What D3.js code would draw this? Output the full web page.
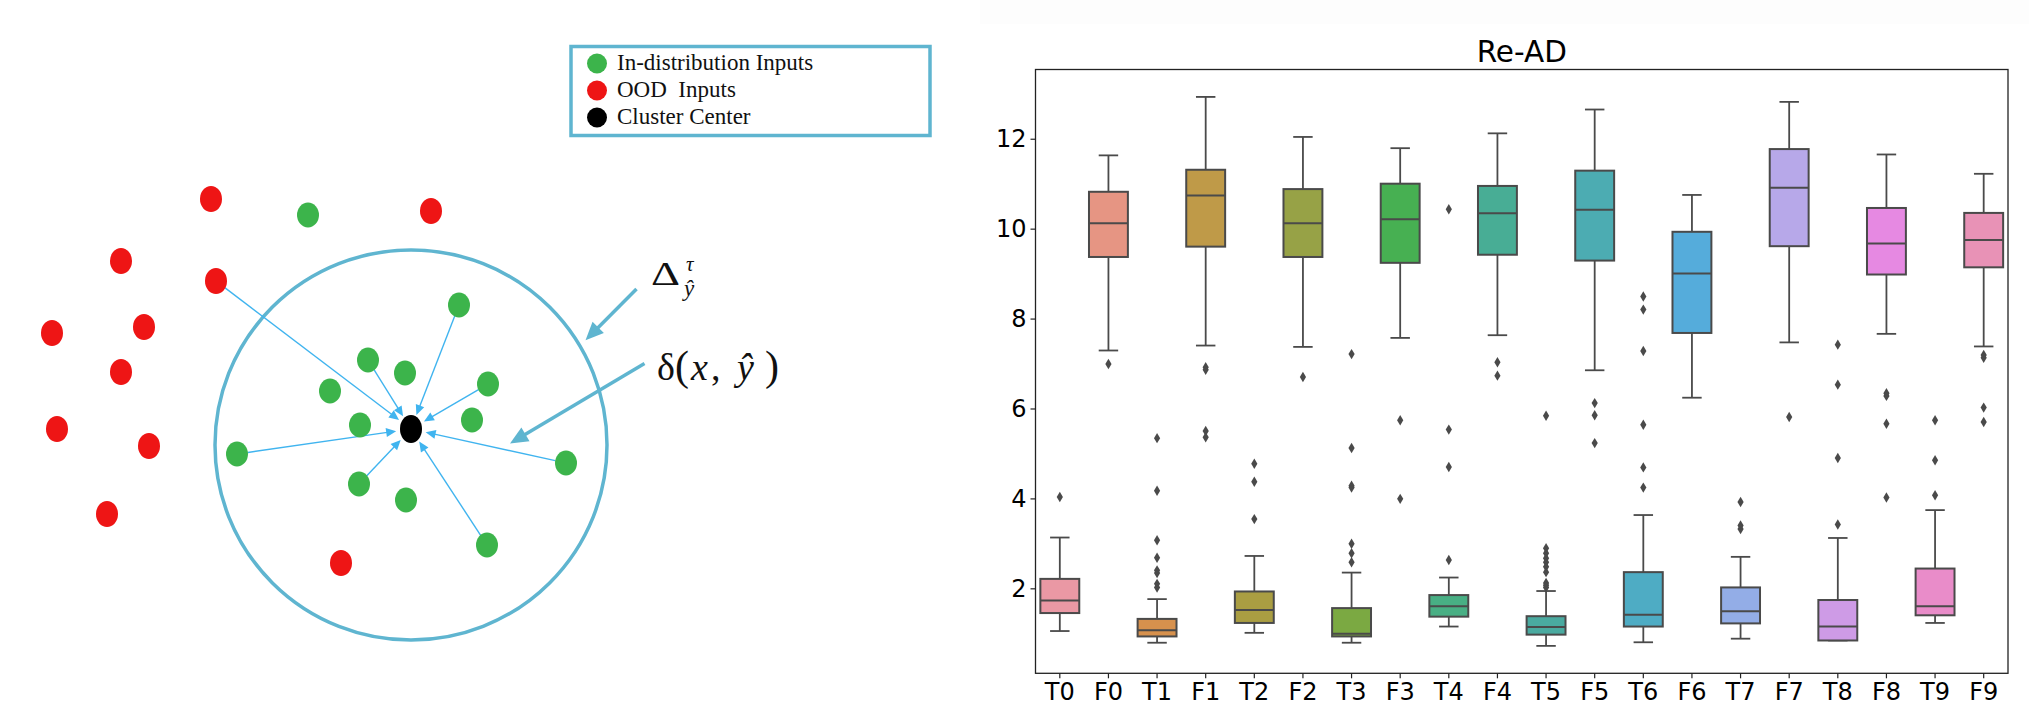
<!DOCTYPE html>
<html>
<head>
<meta charset="utf-8">
<script src="https://cdn.jsdelivr.net/npm/d3@7"></script>
<style>
body { margin: 0; background: #fff; }
svg { display: block; }
</style>
</head>
<body>
<svg id="fig" width="2029" height="723"></svg>
<script>
// ---------- left panel: points relative to the cluster centre (y up)
const oodPoints = [[-200,230],[20,218],[-290,168],[-195,148],[-359,96],[-267,102],[-290,57],[-354,0],[-262,-17],[-304,-85],[-70,-134]];
const inPoints = [[-103,214],[48,124],[-43,69],[-6,56],[-81,38],[77,45],[-51,4],[61,9],[-174,-25],[155,-34],[-52,-55],[-5,-71],[76,-116]];
const clusterCenter = [0, 0];
const boundaryCenter = [0, -16];
const boundaryRadius = [196, 195];
const arrowsFromOod = [3];
const arrowsFromIn = [1, 2, 5, 8, 9, 10, 12];
// annotation arrows: [from, to]
const deltaArrow = [[225.5, 140], [174.5, 88.8]];
const distArrow = [[233.5, 65.5], [99, -14.5]];
const legendItems = ["In-distribution Inputs", "OOD  Inputs", "Cluster Center"];

// ---------- right panel: box stats
const categories = ["T0","F0","T1","F1","T2","F2","T3","F3","T4","F4","T5","F5","T6","F6","T7","F7","T8","F8","T9","F9"];
const whiskerLow  = [1.05,7.29,0.79,7.40,1.01,7.37,0.79,7.57,1.15,7.63,0.72,6.85,0.80,6.24,0.88,7.47,0.84,7.66,1.23,7.38];
const q1          = [1.45,9.37,0.93,9.60,1.23,9.37,0.93,9.24,1.37,9.42,0.97,9.29,1.15,7.68,1.22,9.61,0.84,8.98,1.40,9.14];
const median      = [1.73,10.12,1.07,10.74,1.52,10.12,0.99,10.21,1.60,10.34,1.14,10.42,1.41,9.00,1.49,10.91,1.15,9.67,1.60,9.75];
const q3          = [2.21,10.82,1.32,11.31,1.93,10.88,1.56,11.00,1.85,10.95,1.38,11.29,2.36,9.93,2.02,11.77,1.74,10.46,2.44,10.35];
const whiskerHigh = [3.13,11.63,1.76,12.93,2.72,12.04,2.35,11.79,2.24,12.12,1.94,12.65,3.63,10.75,2.70,12.82,3.12,11.65,3.74,11.22];
const outliers = [
  [4.03],
  [6.99],
  [5.34,4.17,3.07,2.68,2.40,2.34,2.10,2.02],
  [6.92,6.86,5.50,5.36],
  [4.77,4.37,3.54],
  [6.70],
  [7.21,5.12,4.28,4.24,2.99,2.78,2.58],
  [5.74,3.99],
  [10.43,5.53,4.70,2.63],
  [7.03,6.73],
  [5.84,2.89,2.78,2.67,2.58,2.48,2.36,2.12,2.07,2.02],
  [6.12,5.85,5.23],
  [8.49,8.20,7.28,5.64,4.69,4.24],
  [],
  [3.92,3.40,3.32],
  [5.81],
  [7.42,6.53,4.90,3.42],
  [6.34,6.28,5.66,4.02],
  [5.74,4.85,4.07],
  [7.19,7.13,6.02,5.70]
];
const yTicks = [2, 4, 6, 8, 10, 12];
const palette = ["#ea98a4","#e69583","#d7914d","#bf9a48","#aa9e42","#97a246","#7ba942","#47b052","#48af84","#48ad95","#4aaaa0","#4cacb2","#4eacc4","#55acdb","#93ade7","#b7a8e9","#ce9be6","#e689e2","#e98cc9","#e892b6"];

let svg = d3.select("#fig");
svg.append("rect").attr("width", 2029).attr("height", 723).attr("fill", "#fff");
svg.append("rect").attr("x", 980).attr("y", 0).attr("width", 1049).attr("height", 24).attr("fill", "#fdfdfd");

//? ================= left diagram
const xD = d3.scaleLinear().domain([-400, 400]).range([11, 811]);
const yD = d3.scaleLinear().domain([-400, 400]).range([829, 29]);
const ringColor = "#5fb5d0";
const arrowColor = "#40b4ef";

svg.append("ellipse")
  .attr("cx", xD(boundaryCenter[0])).attr("cy", yD(boundaryCenter[1]))
  .attr("rx", xD(boundaryRadius[0]) - xD(0)).attr("ry", yD(0) - yD(boundaryRadius[1]))
  .attr("fill", "none").attr("stroke", ringColor).attr("stroke-width", 3.5);

function arrow(g, p0, p1, o) {
  let dx = p1[0] - p0[0], dy = p1[1] - p0[1];
  let len = Math.hypot(dx, dy);
  let ux = dx / len, uy = dy / len;
  let s = [p0[0] + ux * o.startOff, p0[1] + uy * o.startOff];
  let tip = [p1[0] - ux * o.endOff, p1[1] - uy * o.endOff];
  let base = [tip[0] - ux * o.head, tip[1] - uy * o.head];
  g.append("line")
    .attr("x1", s[0]).attr("y1", s[1]).attr("x2", base[0] + ux).attr("y2", base[1] + uy)
    .attr("stroke", o.color).attr("stroke-width", o.width);
  g.append("path")
    .attr("d", `M${tip[0]},${tip[1]}L${base[0] - uy * o.half},${base[1] + ux * o.half}L${base[0] + uy * o.half},${base[1] - ux * o.half}Z`)
    .attr("fill", o.color);
}

let arrowsG = svg.append("g");
let cpx = [xD(clusterCenter[0]), yD(clusterCenter[1])];
let thin = { startOff: 11, endOff: 15, head: 10, half: 4.5, color: arrowColor, width: 1.4 };
arrowsFromOod.forEach(i => arrow(arrowsG, [xD(oodPoints[i][0]), yD(oodPoints[i][1])], cpx, thin));
arrowsFromIn.forEach(i => arrow(arrowsG, [xD(inPoints[i][0]), yD(inPoints[i][1])], cpx, thin));

svg.append("g").selectAll("ellipse").data(oodPoints).enter().append("ellipse")
  .attr("cx", d => xD(d[0])).attr("cy", d => yD(d[1]))
  .attr("rx", 11).attr("ry", 13).attr("fill", "#ee1515");
svg.append("g").selectAll("ellipse").data(inPoints).enter().append("ellipse")
  .attr("cx", d => xD(d[0])).attr("cy", d => yD(d[1]))
  .attr("rx", 11).attr("ry", 12.5).attr("fill", "#3cb44b");
svg.append("ellipse").attr("cx", cpx[0]).attr("cy", cpx[1]).attr("rx", 11).attr("ry", 14).attr("fill", "#000");

let thick = { startOff: 0, endOff: 0, head: 18, half: 8, color: ringColor, width: 3.5 };
arrow(svg, deltaArrow[0].map((v, k) => k ? yD(v) : xD(v)), deltaArrow[1].map((v, k) => k ? yD(v) : xD(v)), thick);
arrow(svg, distArrow[0].map((v, k) => k ? yD(v) : xD(v)), distArrow[1].map((v, k) => k ? yD(v) : xD(v)), thick);

// math labels
let mathG = svg.append("g").attr("font-family", "Liberation Serif").attr("fill", "#111");
mathG.append("text").attr("x", xD(240)).attr("y", yD(144)).attr("font-size", 34)
  .attr("textLength", 29).attr("lengthAdjust", "spacingAndGlyphs").text("Δ");
mathG.append("text").attr("x", xD(275)).attr("y", yD(158)).attr("font-size", 21).attr("font-style", "italic").text("τ");
mathG.append("text").attr("x", xD(273)).attr("y", yD(133)).attr("font-size", 23).attr("font-style", "italic").text("ŷ");
let base2 = yD(49);
[["δ", 246, 38, "normal"], ["(", 264, 42, "normal"], ["x", 280, 38, "italic"], [",", 300, 38, "normal"],
 ["ŷ", 326, 38, "italic"], [")", 354, 42, "normal"]].forEach(t => {
  mathG.append("text").attr("x", xD(t[1])).attr("y", base2).attr("font-size", t[2])
    .attr("font-style", t[3]).text(t[0]);
});

// legend
let leg = svg.append("g");
leg.append("rect").attr("x", 571).attr("y", 46.5).attr("width", 359).attr("height", 89)
  .attr("fill", "#fff").attr("stroke", ringColor).attr("stroke-width", 3.5);
const legColors = ["#3cb44b", "#ee1515", "#000"];
legendItems.forEach((t, i) => {
  let cy = 63.5 + i * 27;
  leg.append("circle").attr("cx", 597).attr("cy", cy).attr("r", 10).attr("fill", legColors[i]);
  leg.append("text").attr("x", 617).attr("y", cy + 6.5).attr("font-family", "Liberation Serif")
    .attr("font-size", 23).attr("fill", "#111").style("white-space", "pre").text(t);
});

//? ================= right boxplot
const plot = { left: 1035.5, right: 2008, top: 69.5, bottom: 673.3 };
const x = d3.scaleBand().domain(categories).range([plot.left, plot.right]);
const y = d3.scaleLinear().domain([0.11, 13.54]).range([plot.bottom, plot.top]);
const bw = x.bandwidth() * 0.8;
const lineCol = "#4a4a4a";

let stats = categories.map((c, i) => ({
  cat: c, lo: whiskerLow[i], q1: q1[i], med: median[i], q3: q3[i], hi: whiskerHigh[i],
  out: outliers[i], color: palette[i]
}));

let boxes = svg.append("g").selectAll("g").data(stats).enter().append("g")
  .attr("transform", d => `translate(${x(d.cat) + x.bandwidth() / 2},0)`);

boxes.append("line").attr("y1", d => y(d.lo)).attr("y2", d => y(d.q1))
  .attr("stroke", lineCol).attr("stroke-width", 1.8);
boxes.append("line").attr("y1", d => y(d.q3)).attr("y2", d => y(d.hi))
  .attr("stroke", lineCol).attr("stroke-width", 1.8);
boxes.append("line").attr("x1", -bw / 4).attr("x2", bw / 4).attr("y1", d => y(d.lo)).attr("y2", d => y(d.lo))
  .attr("stroke", lineCol).attr("stroke-width", 1.8);
boxes.append("line").attr("x1", -bw / 4).attr("x2", bw / 4).attr("y1", d => y(d.hi)).attr("y2", d => y(d.hi))
  .attr("stroke", lineCol).attr("stroke-width", 1.8);
boxes.append("rect").attr("x", -bw / 2).attr("width", bw)
  .attr("y", d => y(d.q3)).attr("height", d => y(d.q1) - y(d.q3))
  .attr("fill", d => d.color).attr("stroke", lineCol).attr("stroke-width", 2);
boxes.append("line").attr("x1", -bw / 2).attr("x2", bw / 2).attr("y1", d => y(d.med)).attr("y2", d => y(d.med))
  .attr("stroke", lineCol).attr("stroke-width", 2);
boxes.selectAll("path").data(d => d.out).enter().append("path")
  .attr("d", v => `M0,${y(v) - 5.2}L3.1,${y(v)}L0,${y(v) + 5.2}L-3.1,${y(v)}Z`)
  .attr("fill", lineCol);

// axes
let yAxis = svg.append("g").attr("transform", `translate(${plot.left},0)`)
  .call(d3.axisLeft(y).tickValues(yTicks).tickSize(5).tickPadding(4));
let xAxis = svg.append("g").attr("transform", `translate(0,${plot.bottom})`)
  .call(d3.axisBottom(x).tickSize(5).tickPadding(5));
[xAxis, yAxis].forEach(a => {
  a.select(".domain").remove();
  a.selectAll("line").attr("stroke", "#222").attr("stroke-width", 1.2);
  a.selectAll("text").attr("font-family", "DejaVu Sans").attr("font-size", 24).attr("fill", "#000");
});

svg.append("rect").attr("x", plot.left).attr("y", plot.top)
  .attr("width", plot.right - plot.left).attr("height", plot.bottom - plot.top)
  .attr("fill", "none").attr("stroke", "#222").attr("stroke-width", 1.3);

svg.append("text").attr("x", (plot.left + plot.right) / 2).attr("y", 61.5)
  .attr("text-anchor", "middle").attr("font-family", "DejaVu Sans").attr("font-size", 29.5)
  .attr("fill", "#000").text("Re-AD");
</script>
</body>
</html>
